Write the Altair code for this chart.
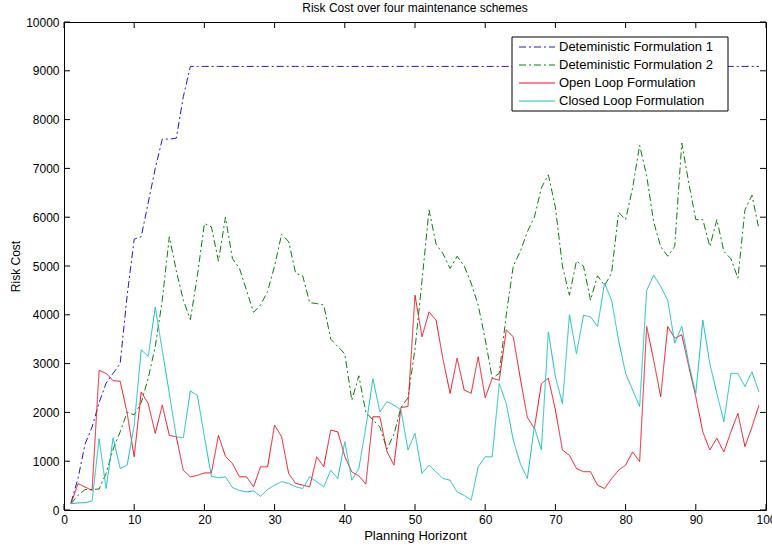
import altair as alt
import pandas as pd

# ---------------- data ----------------
horizon = list(range(1, 100))

det1 = [150, 650, 1350, 1700, 2200, 2600, 2800, 3000, 4400, 5550,
        5600, 6300, 7000, 7600, 7600, 7620, 8470, 9090, 9090, 9090,
        9090, 9090, 9090, 9090, 9090, 9090, 9090, 9090, 9090, 9090,
        9090, 9090, 9090, 9090, 9090, 9090, 9090, 9090, 9090, 9090,
        9090, 9090, 9090, 9090, 9090, 9090, 9090, 9090, 9090, 9090,
        9090, 9090, 9090, 9090, 9090, 9090, 9090, 9090, 9090, 9090,
        9090, 9090, 9090, 9090, 9090, 9090, 9090, 9090, 9090, 9090,
        9090, 9090, 9090, 9090, 9090, 9090, 9090, 9090, 9090, 9090,
        9090, 9090, 9090, 9090, 9090, 9090, 9090, 9090, 9090, 9090,
        9090, 9090, 9090, 9090, 9090, 9090, 9090, 9090, 9090]

det2 = [130, 300, 420, 420, 430, 750, 1250, 1600, 2000, 1950,
        2200, 2700, 3350, 4300, 5600, 4900, 4300, 3900, 4800, 5870,
        5800, 5100, 6000, 5150, 4950, 4500, 4050, 4200, 4480, 5000,
        5650, 5500, 4850, 4800, 4250, 4230, 4200, 3500, 3350, 3200,
        2250, 2750, 2000, 1850, 1700, 1250, 1550, 2100, 2300, 3300,
        4700, 6150, 5450, 5250, 4950, 5200, 5000, 4650, 4200, 3500,
        2700, 2800, 4000, 5000, 5300, 5700, 6000, 6600, 6870, 6200,
        5000, 4400, 5100, 5000, 4300, 4800, 4600, 4850, 6100, 5950,
        6600, 7470, 6850, 5900, 5400, 5200, 5400, 7520, 6700, 5950,
        5950, 5400, 5950, 5300, 5150, 4750, 6150, 6450, 5750]

open_loop = [130, 540, 470, 400, 2860, 2800, 2650, 2640, 1980, 1090,
             2420, 2180, 1570, 2150, 1530, 1500, 810, 680, 710, 760,
             760, 1530, 1100, 950, 680, 680, 475, 885, 885, 1740,
             1500, 750, 545, 510, 475, 1090, 885, 1640, 1600, 1100,
             780, 700, 530, 1910, 1910, 1200, 920, 2100, 2120, 4400,
             3550, 4060, 3890, 3080, 2390, 3110, 2460, 2390, 3140, 2300,
             2700, 2660, 3690, 3550, 2700, 1900, 1670, 2590, 2700, 2050,
             1230, 1120, 850, 785, 785, 510, 440, 645, 815, 920,
             1190, 990, 3760, 3070, 2320, 3760, 3520, 3590, 2940, 2320,
             1600, 1230, 1470, 1190, 1600, 1980, 1300, 1700, 2150]

closed_loop = [130, 145, 150, 185, 1460, 440, 1480, 850, 920, 1740,
               3280, 3150, 4160, 3270, 2390, 1500, 1480, 2440, 2350, 1500,
               690, 660, 680, 460, 400, 370, 390, 280, 420, 510,
               580, 545, 475, 440, 680, 580, 475, 815, 645, 1400,
               610, 850, 1700, 2690, 2010, 2220, 2150, 2050, 1230, 1570,
               750, 920, 780, 645, 610, 370, 300, 200, 885, 1090,
               1090, 2590, 2180, 1430, 955, 645, 1700, 1230, 3650, 2730,
               2180, 4000, 3200, 3990, 3960, 3760, 4650, 4300, 3480, 2800,
               2460, 2120, 4500, 4810, 4580, 4300, 3420, 3760, 3000, 2390,
               3890, 3000, 2390, 1810, 2800, 2800, 2530, 2830, 2420]

series_names = ["Deteministic Formulation 1", "Deteministic Formulation 2",
                "Open Loop Formulation", "Closed Loop Formulation"]
series_values = [det1, det2, open_loop, closed_loop]
series_colors = ["#1c1cd0", "#0a800a", "#f01020", "#10c0c0"]
series_dashes = [[7, 3, 2, 3], [7, 3, 2, 3], [1, 0], [1, 0]]

x_ticks = [0, 10, 20, 30, 40, 50, 60, 70, 80, 90, 100]
y_ticks = [0, 1000, 2000, 3000, 4000, 5000, 6000, 7000, 8000, 9000, 10000]

# ---------------- build ----------------
rows = []
for name, vals in zip(series_names, series_values):
    for h, v in zip(horizon, vals):
        rows.append({"x": h, "value": v, "series": name})
df = pd.DataFrame(rows)
xt_df = pd.DataFrame({"t": x_ticks})
yt_df = pd.DataFrame({"t": y_ticks})

FONT = "Liberation Sans"
W, H = 702, 488
TL = 6

xs = alt.Scale(domain=[0, 100], nice=False, zero=False)
ys = alt.Scale(domain=[0, 10000], nice=False, zero=False)

xaxis = alt.Axis(values=x_ticks, tickSize=0, labelPadding=4, grid=False, domain=False,
                 labelFont=FONT, labelFontSize=12, labelColor="black", format="d",
                 titleFont=FONT, titleFontSize=13, titleFontWeight="normal",
                 titleColor="black", titlePadding=4, labelFlush=False, labelOverlap=False)
yaxis = alt.Axis(values=y_ticks, tickSize=0, labelPadding=5, grid=False, domain=False,
                 labelFont=FONT, labelFontSize=12, labelColor="black", format="d",
                 titleFont=FONT, titleFontSize=12, titleFontWeight="normal",
                 titleColor="black", titlePadding=3, labelOverlap=False)

XT = "Planning Horizont"
YT = "Risk Cost"

color = alt.Color("series:N", scale=alt.Scale(domain=series_names, range=series_colors),
                  legend=None)
dash = alt.StrokeDash("series:N", scale=alt.Scale(domain=series_names, range=series_dashes),
                      legend=None)

layers = []
for name in series_names:
    layers.append(
        alt.Chart(df).transform_filter(alt.datum.series == name)
        .mark_line(strokeWidth=1, clip=True)
        .encode(x=alt.X("x:Q", scale=xs, axis=xaxis, title=XT),
                y=alt.Y("value:Q", scale=ys, axis=yaxis, title=YT),
                color=color, strokeDash=dash)
    )

bottom_ticks = alt.Chart(xt_df).mark_rule(color="black", strokeWidth=1).encode(
    x=alt.X("t:Q", scale=xs, axis=xaxis, title=XT), y=alt.value(H), y2=alt.value(H - TL))
top_ticks = alt.Chart(xt_df).mark_rule(color="black", strokeWidth=1).encode(
    x=alt.X("t:Q", scale=xs, axis=xaxis, title=XT), y=alt.value(0), y2=alt.value(TL))
left_ticks = alt.Chart(yt_df).mark_rule(color="black", strokeWidth=1).encode(
    y=alt.Y("t:Q", scale=ys, axis=yaxis, title=YT), x=alt.value(0), x2=alt.value(TL))
right_ticks = alt.Chart(yt_df).mark_rule(color="black", strokeWidth=1).encode(
    y=alt.Y("t:Q", scale=ys, axis=yaxis, title=YT), x=alt.value(W), x2=alt.value(W - TL))

# ---------------- manual legend (MATLAB style box) ----------------
LX0, LX1, LY0, LY1 = 448, 664, 15, 89
legend_box = alt.Chart(pd.DataFrame({"series": [series_names[0]]})).mark_rect(
    fill="white", stroke="black", strokeWidth=1).encode(
    x=alt.value(LX0), x2=alt.value(LX1), y=alt.value(LY0), y2=alt.value(LY1))

legend_layers = [legend_box]
row_y = [25, 43, 61, 79]
for i, name in enumerate(series_names):
    ldf = pd.DataFrame({"series": [name]})
    legend_layers.append(
        alt.Chart(ldf).mark_rule(strokeWidth=1).encode(
            x=alt.value(455), x2=alt.value(491), y=alt.value(row_y[i]),
            color=color, strokeDash=dash)
    )
    legend_layers.append(
        alt.Chart(ldf).mark_text(align="left", baseline="middle", font=FONT,
                                 fontSize=13, color="black").encode(
            x=alt.value(495), y=alt.value(row_y[i]), text="series:N")
    )

chart = alt.layer(*layers, bottom_ticks, top_ticks, left_ticks, right_ticks,
                  *legend_layers).properties(
    width=W, height=H,
    title=alt.TitleParams("Risk Cost over four maintenance schemes", font=FONT, fontSize=12,
                          fontWeight="normal", color="black", anchor="middle", offset=1),
    autosize=alt.AutoSizeParams(type="none"),
    padding={"left": 64, "top": 22, "right": 6, "bottom": 40},
    background="white",
).configure_view(stroke="black", strokeWidth=1)

chart.save("out.html", embed_options={"renderer": "svg", "actions": False})
